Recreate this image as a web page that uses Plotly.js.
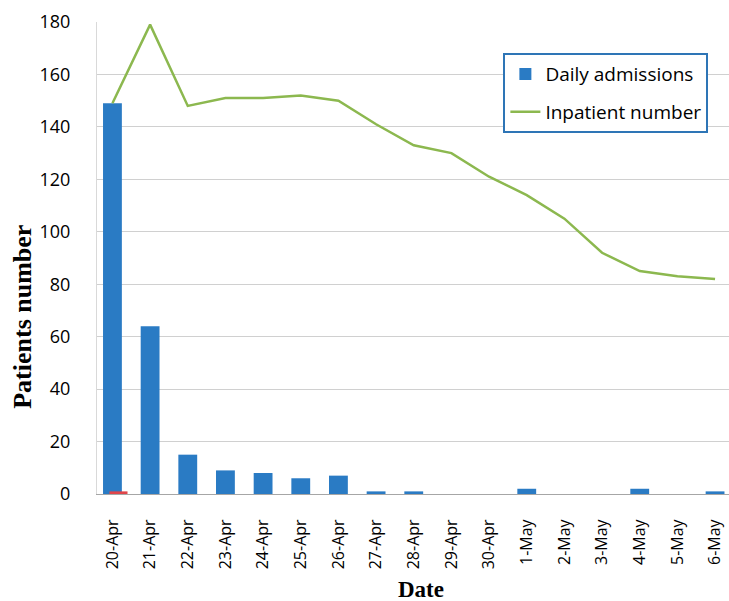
<!DOCTYPE html>
<html><head><meta charset="utf-8">
<script src="https://cdn.plot.ly/plotly-3.0.1.min.js"></script>
<style>body{margin:0;background:#fff}#c{width:729px;height:601px}</style>
</head><body><div id="c"></div>
<script>
const dates = ["20-Apr","21-Apr","22-Apr","23-Apr","24-Apr","25-Apr","26-Apr","27-Apr","28-Apr","29-Apr","30-Apr","1-May","2-May","3-May","4-May","5-May","6-May"];
const dailyAdmissions = [149,64,15,9,8,6,7,1,1,0,0,2,0,0,2,0,1];
const inpatientNumber = [149,179,148,151,151,152,150,141,133,130,121,114,105,92,85,83,82];
const otherDates = ["20-Apr"];
const otherValues = [1];

const traces = [
  {type:'bar', x:dates, y:dailyAdmissions, name:'Daily admissions', legendgroup:'a', marker:{color:'#2a7bc4'}, width:0.5},
  {type:'bar', x:otherDates, y:otherValues, name:'other', marker:{color:'#e0454a'}, offset:-0.08, width:0.48, showlegend:false},
  {type:'scatter', mode:'lines', x:dates, y:inpatientNumber, name:'Inpatient number', legendgroup:'b', line:{color:'#8cb84f', width:2.5}}
];
const titleFont = {family:'"Liberation Serif", "DejaVu Serif", serif', weight:'bold', color:'#000'};
const layout = {
  width:729, height:601,
  margin:{l:97, r:0, t:22, b:107},
  barmode:'overlay',
  paper_bgcolor:'#fff', plot_bgcolor:'#fff',
  font:{family:'"Open Sans", "Liberation Sans", sans-serif', color:'#000'},
  showlegend:true,
  legend:{x:0.643, y:0.934, xanchor:'left', yanchor:'top', bordercolor:'#2e75b6', borderwidth:2,
          traceorder:'grouped', tracegroupgap:10, entrywidth:200, entrywidthmode:'pixels',
          font:{size:19, family:'"Open Sans", sans-serif', color:'#000'}, bgcolor:'#fff'},
  xaxis:{type:'category', range:[-0.41,16.37], tickangle:-90, tickfont:{size:16}, showgrid:false, showline:true, linecolor:'#a6a6a6', linewidth:1,
         ticks:'', ticklabelstandoff:18},
  yaxis:{range:[0,180], dtick:20, tickfont:{size:18}, showgrid:true, gridcolor:'#d0d0d0', gridwidth:1, zeroline:false,
         showline:true, linecolor:'#d9d9d9', ticks:'', ticklabelstandoff:22},
  annotations:[
    {text:'Patients number', xref:'paper', yref:'paper', x:-0.119, y:0.375, xanchor:'center', yanchor:'middle', textangle:-90, showarrow:false, font:Object.assign({size:26}, titleFont)},
    {text:'Date', xref:'paper', yref:'paper', x:0.513, y:-0.203, xanchor:'center', yanchor:'middle', showarrow:false, font:Object.assign({size:23}, titleFont)}
  ]
};
Plotly.newPlot('c', traces, layout, {displayModeBar:false, staticPlot:true});
</script></body></html>
